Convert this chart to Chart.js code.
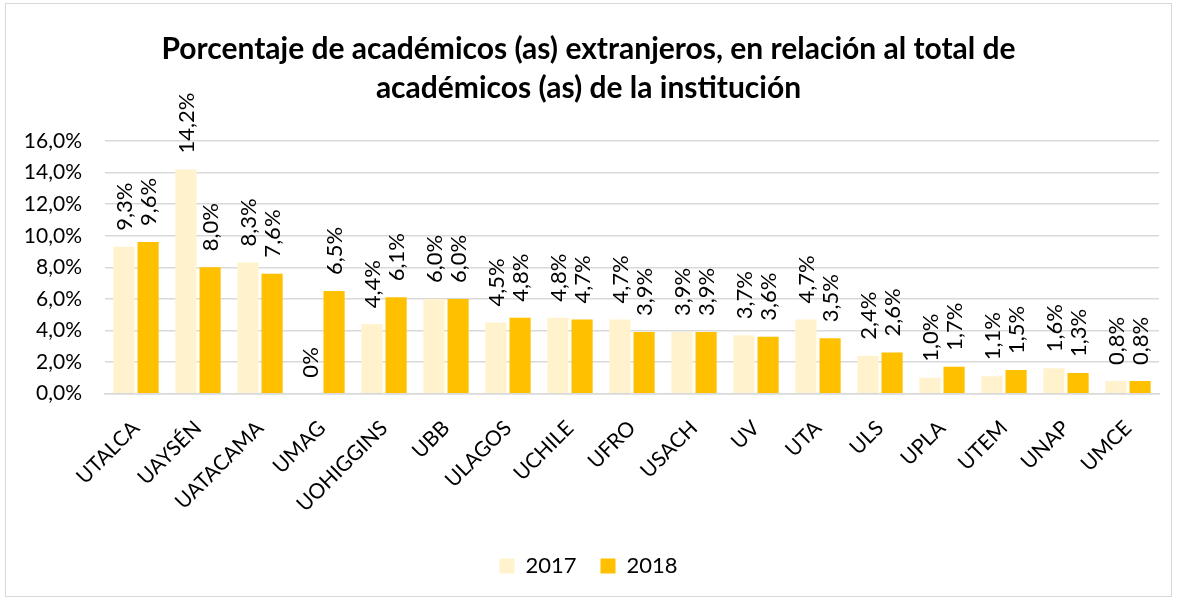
<!DOCTYPE html>
<html lang="es">
<head>
    <meta charset="UTF-8">
    <title>Académicos extranjeros</title>
    <script src="https://cdn.jsdelivr.net/npm/chart.js"></script>
    <style>
        body {
            margin: 0;
            background: #ffffff;
        }
        #wrap {
            position: absolute;
            left: 5px;
            top: 3px;
            width: 1167px;
            height: 594px;
            border: 1px solid #d9d9d9;
            box-sizing: border-box;
        }
    </style>
</head>
<body>
    <div id="wrap"><canvas id="chart"></canvas></div>
    <script>
        const categories = ["UTALCA", "UAYSÉN", "UATACAMA", "UMAG", "UOHIGGINS", "UBB", "ULAGOS", "UCHILE",
            "UFRO", "USACH", "UV", "UTA", "ULS", "UPLA", "UTEM", "UNAP", "UMCE"];
        const values2017 = [9.3, 14.2, 8.3, 0, 4.4, 6.0, 4.5, 4.8, 4.7, 3.9, 3.7, 4.7, 2.4, 1.0, 1.1, 1.6, 0.8];
        const values2018 = [9.6, 8.0, 7.6, 6.5, 6.1, 6.0, 4.8, 4.7, 3.9, 3.9, 3.6, 3.5, 2.6, 1.7, 1.5, 1.3, 0.8];
        const yTicks = [0, 2, 4, 6, 8, 10, 12, 14, 16];

        const FONT = "Lato, 'Open Sans', sans-serif";

        function fmt(v, dec) {
            if (dec === undefined && v === 0) return "0%";
            return v.toFixed(1).replace(".", ",") + "%";
        }

        // etiquetas verticales sobre cada barra
        const barLabels = {
            id: "barLabels",
            afterDatasetsDraw(chart) {
                const ctx = chart.ctx;
                ctx.save();
                ctx.font = "22px " + FONT;
                ctx.fillStyle = "#000000";
                ctx.textAlign = "left";
                ctx.textBaseline = "middle";
                chart.data.datasets.forEach((ds, i) => {
                    chart.getDatasetMeta(i).data.forEach((bar, j) => {
                        ctx.save();
                        ctx.translate(bar.x + 1, bar.y - 16);
                        ctx.rotate(-Math.PI / 2);
                        ctx.fillText(fmt(ds.data[j]), 0, 0);
                        ctx.restore();
                    });
                });
                ctx.restore();
            }
        };

        new Chart(document.getElementById("chart"), {
            type: "bar",
            data: {
                labels: categories,
                datasets: [
                    { label: "2017", data: values2017, backgroundColor: "#FFF2CC" },
                    { label: "2018", data: values2018, backgroundColor: "#FFC000" }
                ]
            },
            options: {
                responsive: true,
                maintainAspectRatio: false,
                animation: false,
                categoryPercentage: 0.78,
                barPercentage: 0.875,
                layout: { padding: { left: 12, right: 12, top: 12, bottom: 9 } },
                scales: {
                    x: {
                        grid: { display: false },
                        border: { color: "#d9d9d9", width: 1.5 },
                        ticks: {
                            color: "#000000",
                            font: { family: FONT, size: 21 },
                            minRotation: 45,
                            maxRotation: 45,
                            padding: 14
                        }
                    },
                    y: {
                        min: 0,
                        max: 16,
                        afterBuildTicks(axis) {
                            axis.ticks = yTicks.map(v => ({ value: v }));
                        },
                        afterFit(axis) {
                            axis.width = 87;
                        },
                        grid: { color: "#d9d9d9", lineWidth: 1.5, drawTicks: false },
                        border: { display: false },
                        ticks: {
                            color: "#000000",
                            font: { family: FONT, size: 21 },
                            padding: 23,
                            callback: v => fmt(v, 1)
                        }
                    }
                },
                plugins: {
                    title: {
                        display: true,
                        text: ["Porcentaje de académicos (as) extranjeros, en relación al total de",
                            "académicos (as) de la institución"],
                        color: "#000000",
                        font: { family: FONT, size: 30, weight: "bold", lineHeight: 1.3 },
                        padding: { top: 14, bottom: 33 }
                    },
                    legend: {
                        position: "bottom",
                        labels: {
                            color: "#000000",
                            font: { family: FONT, size: 22 },
                            boxWidth: 15,
                            boxHeight: 15,
                            padding: 24
                        }
                    },
                    tooltip: { enabled: false }
                }
            },
            plugins: [barLabels]
        });
    </script>
</body>
</html>
